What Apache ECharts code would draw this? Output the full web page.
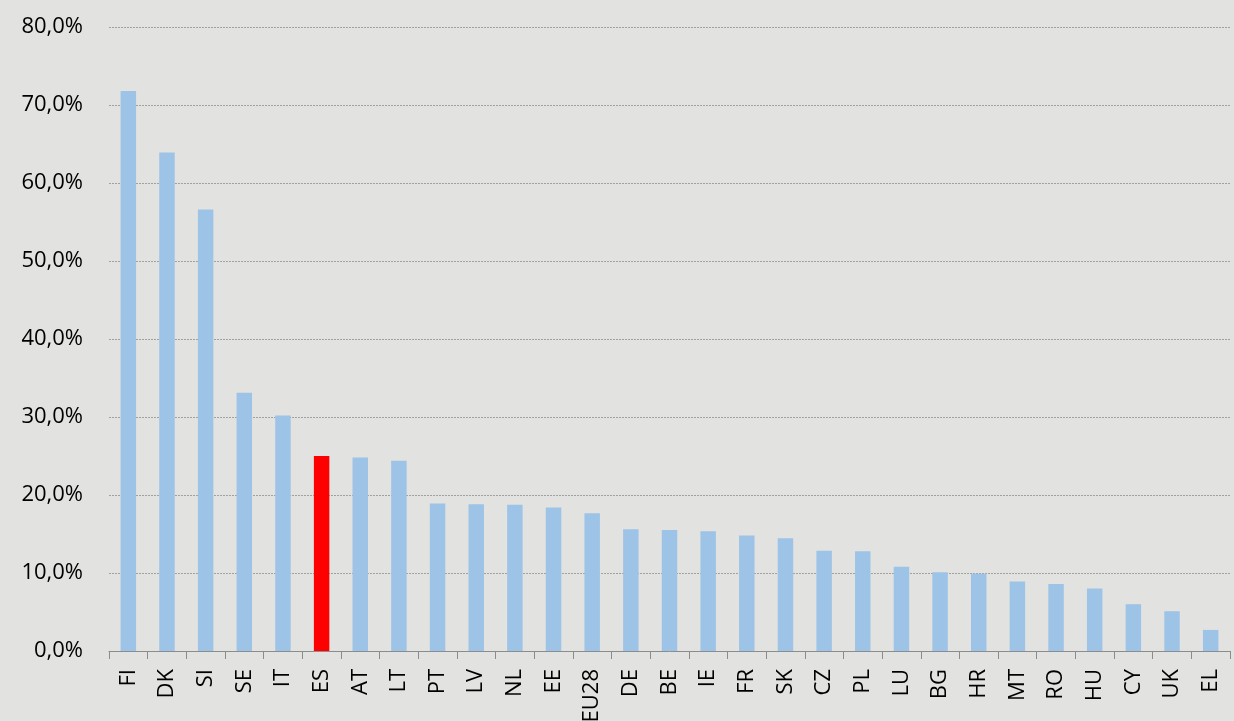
<!DOCTYPE html>
<html lang="en">

<head>
    <meta charset="UTF-8">
    <title>Chart</title>
    <script src="https://cdn.jsdelivr.net/npm/echarts@6/dist/echarts.min.js"></script>
    <style>
        html, body { margin: 0; padding: 0; background: #e2e2e1; }
    </style>
</head>

<body>
    <div id="container" style="width: 1234px; height: 721px"></div>
    <script>
        // country codes, sorted as in the picture
        var countries = ['FI', 'DK', 'SI', 'SE', 'IT', 'ES', 'AT', 'LT', 'PT', 'LV', 'NL', 'EE', 'EU28', 'DE', 'BE',
            'IE', 'FR', 'SK', 'CZ', 'PL', 'LU', 'BG', 'HR', 'MT', 'RO', 'HU', 'CY', 'UK', 'EL'];
        // share in percent
        var shares = [71.8, 63.9, 56.6, 33.1, 30.2, 25.0, 24.8, 24.4, 18.9, 18.8, 18.75, 18.4, 17.65, 15.6, 15.5,
            15.35, 14.8, 14.45, 12.85, 12.8, 10.8, 10.1, 9.9, 8.9, 8.6, 8.0, 6.0, 5.1, 2.7];
        var highlight = 'ES';
        var yTicks = [0, 10, 20, 30, 40, 50, 60, 70, 80];

        var chartDom = document.getElementById('container');
        var myChart = echarts.init(chartDom);

        var barData = [];
        for (var i = 0; i < countries.length; i++) {
            barData.push({
                value: shares[i],
                itemStyle: { color: countries[i] == highlight ? '#ff0000' : '#9dc3e6' }
            });
        }

        myChart.setOption({
            backgroundColor: '#e2e2e1',
            animation: false,
            grid: { left: 109, right: 4, top: 27, bottom: 70, containLabel: false, outerBoundsMode: 'none' },
            xAxis: {
                type: 'category',
                data: countries,
                axisLine: { lineStyle: { color: '#8c8c8c', width: 1 } },
                axisTick: { show: true, length: 8, lineStyle: { color: '#8c8c8c' } },
                axisLabel: {
                    rotate: 90,
                    interval: 0,
                    color: '#000',
                    fontFamily: 'Open Sans',
                    fontSize: 22,
                    margin: 18
                }
            },
            yAxis: {
                type: 'value',
                min: yTicks[0],
                max: yTicks[yTicks.length - 1],
                interval: 10,
                axisLine: { show: false },
                axisTick: { show: false },
                splitLine: { lineStyle: { color: '#a0a0a0', type: [2, 1], width: 1 } },
                axisLabel: {
                    color: '#000',
                    fontFamily: 'Open Sans',
                    fontSize: 22,
                    margin: 26,
                    formatter: function (v) { return v.toFixed(1).replace('.', ',') + '%'; }
                }
            },
            series: [
                {
                    type: 'bar',
                    data: barData,
                    barWidth: '40%'
                }
            ]
        });
    </script>
</body>

</html>
